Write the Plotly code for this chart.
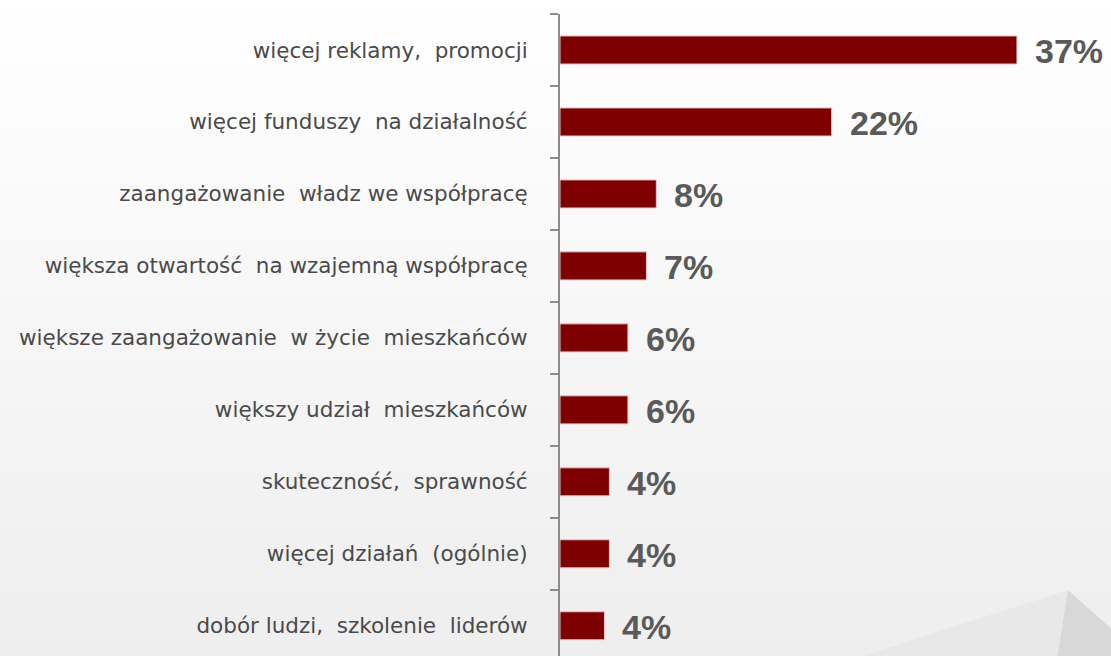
import plotly.graph_objects as go

categories = [
    "więcej reklamy,  promocji",
    "więcej funduszy  na działalność",
    "zaangażowanie  władz we współpracę",
    "większa otwartość  na wzajemną współpracę",
    "większe zaangażowanie  w życie  mieszkańców",
    "większy udział  mieszkańców",
    "skuteczność,  sprawność",
    "więcej działań  (ogólnie)",
    "dobór ludzi,  szkolenie  liderów",
]
values = [37, 22, 7.8, 7.0, 5.5, 5.5, 4.0, 4.0, 3.6]
value_labels = ["37%", "22%", "8%", "7%", "6%", "6%", "4%", "4%", "4%"]

W, H = 1111, 656
ML, MT = 560, 14
PW, PH = W - ML, H - MT

fig = go.Figure()
fig.add_trace(go.Bar(
    x=values, y=categories, orientation="h",
    marker=dict(color="#7F0000", line=dict(color="#e6c8c8", width=1)),
    hoverinfo="skip",
))

for v, lab, c in zip(values, value_labels, categories):
    fig.add_annotation(x=v, y=c, text=lab, showarrow=False, xanchor="left",
                       xshift=16, yshift=-1,
                       font=dict(family="Liberation Sans", size=34, color="#5a5a5a",
                                 weight="bold"))

def px2paper(px, py):
    return (px - ML) / PW, (H - py) / PH

shapes = []
# background gradient (stacked so that no seams show)
n = 40
y_top = px2paper(0, -2)[1]
y_bot = px2paper(0, H + 2)[1]
x_left = px2paper(-2, 0)[0]
x_right = px2paper(W + 2, 0)[0]
for i in range(n):
    t = i / n
    g = int(round(255 - (255 - 238) * (t + 0.5 / n)))
    col = f"rgb({g},{g},{g})"
    shapes.append(dict(type="rect", xref="paper", yref="paper", layer="below",
                       x0=x_left, x1=x_right,
                       y0=y_bot,
                       y1=y_top + (y_bot - y_top) * t,
                       fillcolor=col, line=dict(width=0)))

def poly(pts, color):
    p = [px2paper(*q) for q in pts]
    path = "M " + " L ".join(f"{a:.5f},{b:.5f}" for a, b in p) + " Z"
    return dict(type="path", xref="paper", yref="paper", layer="below",
                path=path, fillcolor=color, line=dict(width=0))

shapes.append(poly([(850, 660), (1068, 590), (1057, 660)], "#e8e8e8"))
shapes.append(poly([(1068, 590), (1115, 632), (1115, 660), (1057, 660)], "#d8d8d8"))

fig.update_layout(
    width=W, height=H,
    margin=dict(l=ML, r=0, t=MT, b=0, pad=0),
    paper_bgcolor="white", plot_bgcolor="rgba(0,0,0,0)",
    showlegend=False, bargap=0.61,
    shapes=shapes,
    xaxis=dict(range=[0, PW / 12.35], visible=False, showgrid=False, zeroline=False, fixedrange=True),
    yaxis=dict(type="category", categoryorder="array", categoryarray=categories,
               range=[8.42, -0.5], showline=True, linecolor="#8c8c8c", linewidth=2,
               ticks="outside", tickson="boundaries", ticklen=8, tickcolor="#8c8c8c",
               tickwidth=2, showgrid=False, ticklabelstandoff=26,
               tickfont=dict(family="DejaVu Sans", size=21.5, color="#4a4a4a")),
)

fig.write_html("out.html", config={"displayModeBar": False},
               post_script="document.body.style.margin='0';document.body.style.padding='0';")
